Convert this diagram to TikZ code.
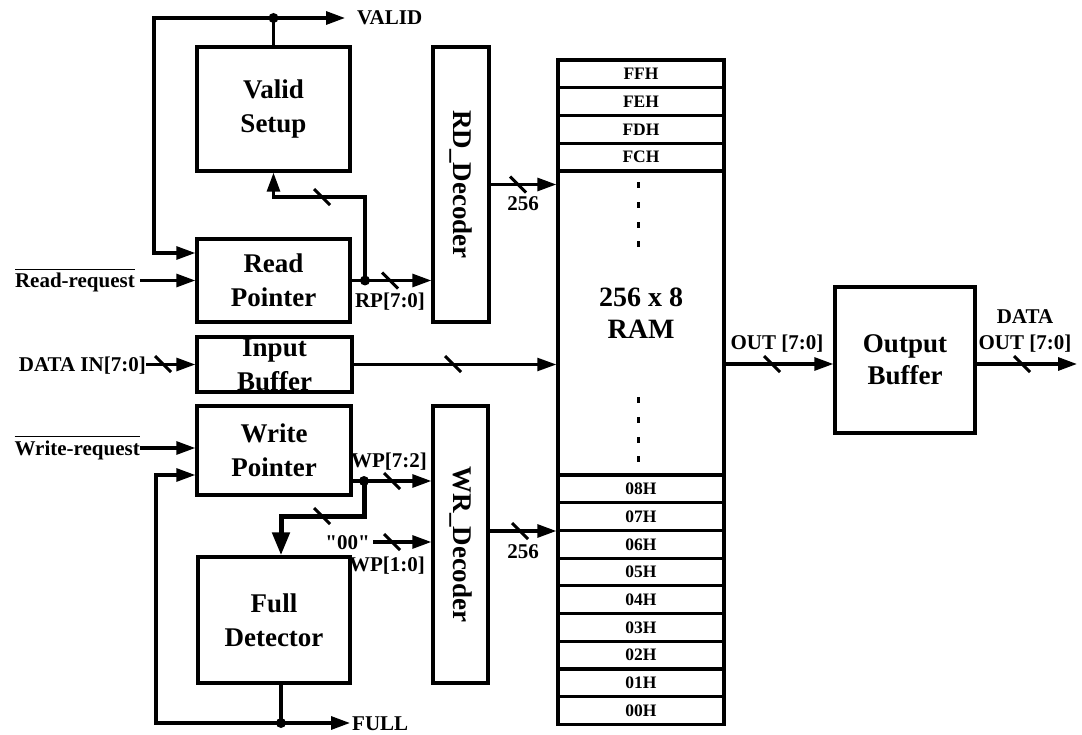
\documentclass[tikz,border=0pt]{standalone}
\usepackage{fontspec}
\setmainfont{Liberation Serif}
\usetikzlibrary{arrows.meta,calc}
\newcommand\ovl[1]{\vbox{\hrule height 1.6pt\kern 3pt\hbox{#1}}}
\begin{document}
\begin{tikzpicture}[x=1pt,y=-1pt,
  blk/.style={draw, line width=3.4pt, inner sep=0pt},
  btxt/.style={font=\bfseries\fontsize{27}{34}\selectfont, align=center, inner sep=0pt},
  lbl/.style={font=\bfseries\fontsize{21}{25}\selectfont, inner sep=0pt},
  row/.style={draw, line width=3.2pt, minimum width=166pt, minimum height=27.75pt, inner sep=0pt, font=\bfseries\fontsize{17.5}{20}\selectfont},
  wire/.style={line width=3.1pt},
  thinwire/.style={line width=2.4pt},
  bus/.style={line width=5pt},
  arr/.style={-{Triangle[length=19pt,width=13pt]}},
  bigarr/.style={-{Triangle[length=23pt,width=17pt]}},
  dot/.style={circle, fill, inner sep=0pt, minimum size=10pt}]
\useasboundingbox (0,0) rectangle (1082,735);

% ---------- blocks ----------
\node[blk, minimum width=153pt, minimum height=124pt] (vs) at (273.5,109) {};
\node[btxt] (vst) at (vs.center) {Valid\\Setup};
\node[blk, minimum width=153pt, minimum height=83pt] (rp) at (273.5,280.5) {};
\node[btxt] (rpt) at (rp.center) {Read\\Pointer};
\node[blk, minimum width=155pt, minimum height=55pt] (ib) at (274.5,364.5) {};
\node[btxt] (ibt) at (ib.center) {Input\\Buffer};
\node[blk, minimum width=154pt, minimum height=89pt] (wp) at (274,450.5) {};
\node[btxt] (wpt) at (wp.center) {Write\\Pointer};
\node[blk, minimum width=152pt, minimum height=126pt] (fd) at (274,620) {};
\node[btxt] (fdt) at (fd.center) {Full\\Detector};
\node[blk, minimum width=56pt, minimum height=275pt] (rd) at (461,184.5) {};
\node[btxt, rotate=-90] (rdt) at (rd.center) {RD\_Decoder};
\node[blk, minimum width=55pt, minimum height=277pt] (wr) at (460.5,544.5) {};
\node[btxt, rotate=-90] (wrt) at (wr.center) {WR\_Decoder};
\node[blk, minimum width=140pt, minimum height=146pt] (ob) at (905,360) {};
\node[btxt, font=\bfseries\fontsize{27}{32}\selectfont] (obt) at (ob.center) {Output\\Buffer};

% ---------- RAM ----------
\node[row] (rFF) at (641,73.9) {FFH};
\node[row] (rFE) at (641,101.6) {FEH};
\node[row] (rFD) at (641,129.4) {FDH};
\node[row] (rFC) at (641,157.1) {FCH};
\node[blk, minimum width=166pt, minimum height=304pt] (ram) at (641,323) {};
\node[btxt, font=\bfseries\fontsize{28}{32}\selectfont] (ramt) at (641,313) {256 x 8\\RAM};
\node[row] (r08) at (641,488.9) {08H};
\node[row] (r07) at (641,516.6) {07H};
\node[row] (r06) at (641,544.3) {06H};
\node[row] (r05) at (641,572.0) {05H};
\node[row] (r04) at (641,599.7) {04H};
\node[row] (r03) at (641,627.4) {03H};
\node[row] (r02) at (641,655.1) {02H};
\node[row] (r01) at (641,682.8) {01H};
\node[row] (r00) at (641,710.5) {00H};
\foreach \yy in {185,205,225,244,400,420,440,459}
  \fill (636.5,\yy-3) rectangle (639.5,\yy+3);

% ---------- labels ----------
\node[lbl, anchor=base west] (valid) at (357,25) {VALID};
\node[lbl, anchor=base east] (rreq) at (135,288) {\ovl{Read-request}};
\node[lbl, anchor=base] (rplab) at (390,308) {RP[7:0]};
\node[lbl, anchor=base east] (din) at (146,371) {DATA IN[7:0]};
\node[lbl, anchor=base] (n256a) at (523,211) {256};
\node[lbl, anchor=base east] (wreq) at (140,455) {\ovl{Write-request}};
\node[lbl, anchor=base] (wp72) at (389,467) {WP[7:2]};
\node[lbl, anchor=base east] (zz) at (370,549) {\textquotedbl00\textquotedbl};
\node[lbl, anchor=base] (wp10) at (387,571) {WP[1:0]};
\node[lbl, anchor=base] (n256b) at (523,558) {256};
\node[lbl, anchor=base west] (full) at (352,730) {FULL};
\node[lbl, anchor=base] (outl) at (777,350) {OUT [7:0]};
\node[lbl, anchor=base] (dout1) at (1025,324) {DATA};
\node[lbl, anchor=base] (dout2) at (1025,349) {OUT [7:0]};

% ---------- junctions ----------
\node[dot] (vd) at (273.5,18) {};
\node[dot] (rpd) at (365,280.5) {};
\node[dot] (wpd) at (364,481) {};
\node[dot] (fdd) at (281,723) {};
\coordinate (vtl) at (154,18);
\coordinate (vtip) at (345,18);
\coordinate (fbk) at (365,197);
\coordinate (busc) at (364,516);
\coordinate (wl) at (156,723);
\coordinate (ftip) at (350,723);
\coordinate (dtip) at (1077,364);

% ---------- connectors ----------
\draw[wire] (vs.north) -- (vd.center);
\draw[wire,arr] (vd.center) -- (vtip);
\draw[wire,arr] (vd.center) -- (vtl) |- (rp.west |- 0,253);
\draw[wire,arr] ([xshift=5pt]rreq.east |- rp.west) -- (rp.west);
\draw[wire,arr] (rp.east) -- (rp.east -| rd.west);
\draw[wire,arr] (rpd.center) -- (fbk) -| (vs.south);
\draw[wire,arr] (rd.east) -- (rd.east -| ram.west);
\draw[wire,arr] (din.east |- ib.west) -- (ib.west);
\draw[thinwire,arr] (ib.east) -- (ib.east -| ram.west);
\draw[wire,arr] (ram.east |- 0,364) -- (ob.west |- 0,364);
\draw[wire,arr] (ob.east |- 0,364) -- (dtip);
\draw[wire,arr] (wreq.east |- 0,448) -- (wp.west |- 0,448);
\draw[wire,arr] (wp.east |- wpd) -- (wpd -| wr.west);
\draw[bus,bigarr] (wpd.center) -- (busc) -| ([xshift=7pt]fd.north);
\draw[wire,arr] ([xshift=3pt]zz.east |- 0,542) -- (wr.west |- 0,542);
\draw[wire,arr] (wr.east |- 0,531) -- (ram.west |- 0,531);
\draw[wire] ([xshift=7pt]fd.south) -- (fdd.center);
\draw[wire,arr] (fdd.center) -- (ftip);
\draw[wire,arr] (fdd.center) -- (wl) |- (wp.west |- 0,475);

% ---------- bus marks ----------
\foreach \px/\py in {322/197,390/280.5,518/184.5,163/364,453/364,772/364,1022/364,392/481,322/516,392/542,520/531}
  \draw[wire] (\px-8,\py-8) -- (\px+8,\py+8);
\end{tikzpicture}
\end{document}
